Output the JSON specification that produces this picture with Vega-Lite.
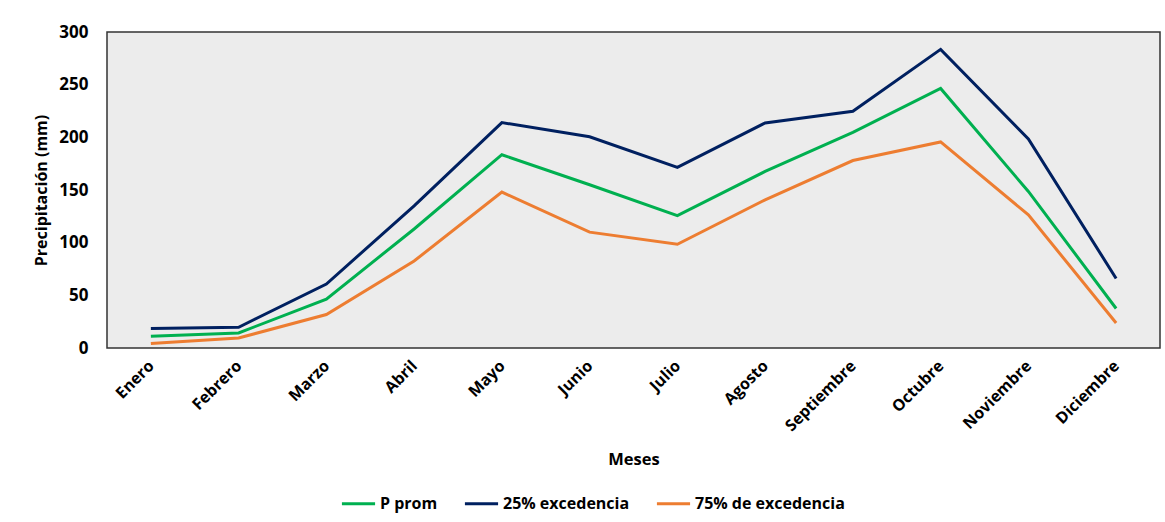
{
  "$schema": "https://vega.github.io/schema/vega-lite/v6.json",
  "autosize": {"type": "none"},
  "width": 1053,
  "height": 316,
  "padding": {"left": 107, "top": 32, "right": 5, "bottom": 174},
  "background": "white",
  "data": {
    "values": [
      {"mes": "Enero", "serie": "P prom", "valor": 11.1},
      {"mes": "Febrero", "serie": "P prom", "valor": 14.3},
      {"mes": "Marzo", "serie": "P prom", "valor": 46.4},
      {"mes": "Abril", "serie": "P prom", "valor": 113},
      {"mes": "Mayo", "serie": "P prom", "valor": 183.5},
      {"mes": "Junio", "serie": "P prom", "valor": 155},
      {"mes": "Julio", "serie": "P prom", "valor": 125.7},
      {"mes": "Agosto", "serie": "P prom", "valor": 167.6},
      {"mes": "Septiembre", "serie": "P prom", "valor": 204.8},
      {"mes": "Octubre", "serie": "P prom", "valor": 246.4},
      {"mes": "Noviembre", "serie": "P prom", "valor": 148.6},
      {"mes": "Diciembre", "serie": "P prom", "valor": 37.5},
      {"mes": "Enero", "serie": "25% excedencia", "valor": 18.5},
      {"mes": "Febrero", "serie": "25% excedencia", "valor": 19.7},
      {"mes": "Marzo", "serie": "25% excedencia", "valor": 60.7},
      {"mes": "Abril", "serie": "25% excedencia", "valor": 135},
      {"mes": "Mayo", "serie": "25% excedencia", "valor": 214},
      {"mes": "Junio", "serie": "25% excedencia", "valor": 200.5},
      {"mes": "Julio", "serie": "25% excedencia", "valor": 171.4},
      {"mes": "Agosto", "serie": "25% excedencia", "valor": 213.7},
      {"mes": "Septiembre", "serie": "25% excedencia", "valor": 224.8},
      {"mes": "Octubre", "serie": "25% excedencia", "valor": 283.5},
      {"mes": "Noviembre", "serie": "25% excedencia", "valor": 198.5},
      {"mes": "Diciembre", "serie": "25% excedencia", "valor": 66},
      {"mes": "Enero", "serie": "75% de excedencia", "valor": 4.2},
      {"mes": "Febrero", "serie": "75% de excedencia", "valor": 9.5},
      {"mes": "Marzo", "serie": "75% de excedencia", "valor": 31.8},
      {"mes": "Abril", "serie": "75% de excedencia", "valor": 82.6},
      {"mes": "Mayo", "serie": "75% de excedencia", "valor": 148},
      {"mes": "Junio", "serie": "75% de excedencia", "valor": 110},
      {"mes": "Julio", "serie": "75% de excedencia", "valor": 98.5},
      {"mes": "Agosto", "serie": "75% de excedencia", "valor": 140.7},
      {"mes": "Septiembre", "serie": "75% de excedencia", "valor": 178},
      {"mes": "Octubre", "serie": "75% de excedencia", "valor": 195.6},
      {"mes": "Noviembre", "serie": "75% de excedencia", "valor": 126.4},
      {"mes": "Diciembre", "serie": "75% de excedencia", "valor": 23.8}
    ]
  },
  "mark": {"type": "line", "strokeWidth": 3, "strokeJoin": "miter"},
  "encoding": {
    "x": {
      "field": "mes",
      "type": "ordinal",
      "sort": ["Enero", "Febrero", "Marzo", "Abril", "Mayo", "Junio", "Julio", "Agosto", "Septiembre", "Octubre", "Noviembre", "Diciembre"],
      "scale": {"type": "point", "padding": 0.5},
      "axis": {
        "title": "Meses",
        "labelAngle": -45,
        "labelAlign": "right",
        "labelBaseline": "middle",
        "labelFontSize": 16,
        "labelFontWeight": "bold",
        "labelPadding": 15,
        "ticks": false,
        "domain": false,
        "titleFontSize": 16.5,
        "titleFontWeight": "bold",
        "titlePadding": 18
      }
    },
    "y": {
      "field": "valor",
      "type": "quantitative",
      "scale": {"domain": [0, 300]},
      "axis": {
        "title": "Precipitación (mm)",
        "values": [0, 50, 100, 150, 200, 250, 300],
        "grid": false,
        "ticks": false,
        "domain": false,
        "labelFontSize": 17,
        "labelFontWeight": "bold",
        "labelPadding": 19,
        "titleFontSize": 16,
        "titleFontWeight": "bold",
        "titlePadding": 9
      }
    },
    "color": {
      "field": "serie",
      "type": "nominal",
      "sort": ["P prom", "25% excedencia", "75% de excedencia"],
      "scale": {
        "domain": ["P prom", "25% excedencia", "75% de excedencia"],
        "range": ["#00B050", "#002060", "#ED7D31"]
      },
      "legend": {
        "title": null,
        "orient": "none",
        "direction": "horizontal",
        "legendX": 233,
        "legendY": 453,
        "symbolType": "stroke",
        "symbolSize": 1100,
        "symbolStrokeWidth": 3,
        "labelFontSize": 16,
        "labelFontWeight": "bold",
        "labelOffset": 3,
        "columnPadding": 20
      }
    }
  },
  "config": {
    "font": "Open Sans",
    "axis": {"labelColor": "#000000", "titleColor": "#000000"},
    "legend": {"labelColor": "#000000"},
    "view": {"fill": "#ECECEC", "stroke": "#333333", "strokeWidth": 1.5}
  }
}
